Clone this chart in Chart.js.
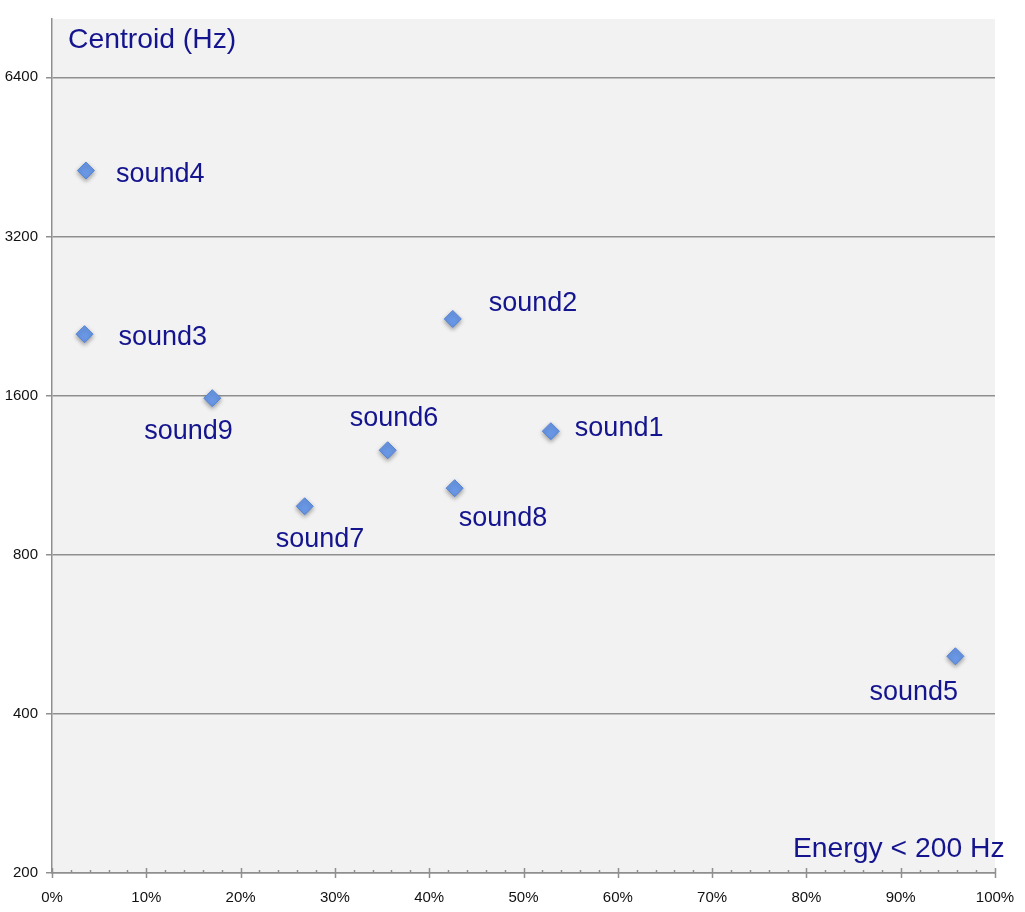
<!DOCTYPE html>
<html>
<head>
<meta charset="utf-8">
<script src="https://cdn.jsdelivr.net/npm/chart.js@4"></script>
<style>
  html, body { margin: 0; padding: 0; background: #fff; }
  #wrap { width: 1025px; height: 912px; }
</style>
</head>
<body>
<div id="wrap"><canvas id="scatterChart"></canvas></div>
<script>
// data
const soundNames = ['sound1', 'sound2', 'sound3', 'sound4', 'sound5', 'sound6', 'sound7', 'sound8', 'sound9'];
const energyLow = [52.9, 42.5, 3.45, 3.6, 95.8, 35.6, 26.8, 42.7, 17.0];   // % energy < 200 Hz
const centroidHz = [1370, 2234, 2091, 4264, 514, 1261, 988, 1069, 1582];  // Hz
const yTickValues = [200, 400, 800, 1600, 3200, 6400];

// where each label sits relative to its point (text left edge / baseline)
const labelOffsets = [[24, 5], [36, -8], [34, 11], [30, 11], [-86, 44], [-38, -24], [-29, 41], [4, 38], [-68, 41]];

const textBlue = '#14148e';
const labelFont = '27px "Liberation Sans", Arial, sans-serif';
const titleFont = '28.3px "Liberation Sans", Arial, sans-serif';
const tickFont = { family: '"Liberation Sans", Arial, sans-serif', size: 15 };

const plotBackground = {
    id: 'plotBackground',
    beforeDraw(chart) {
        const { ctx, chartArea: a } = chart;
        ctx.save();
        ctx.fillStyle = '#f2f2f2';
        ctx.fillRect(a.left, a.top, a.right - a.left, a.bottom - a.top);
        ctx.restore();
    }
};

const pointShadow = {
    id: 'pointShadow',
    beforeDatasetsDraw(chart) {
        const ctx = chart.ctx;
        ctx.save();
        ctx.shadowColor = 'rgba(0,0,0,0.35)';
        ctx.shadowBlur = 4;
        ctx.shadowOffsetY = 2;
    },
    afterDatasetsDraw(chart) {
        chart.ctx.restore();
    }
};

const labelsAndTitles = {
    id: 'labelsAndTitles',
    afterDraw(chart) {
        const { ctx } = chart;
        const xs = chart.scales.x;
        const bottom = chart.chartArea.bottom;
        ctx.save();
        // x axis tick marks: major every 10%, minor every 2%
        ctx.strokeStyle = '#8f8f8f';
        ctx.lineWidth = 1.5;
        for (let v = 0; v <= 100; v += 2) {
            const px = Math.round(xs.getPixelForValue(v)) + 0.5;
            ctx.beginPath();
            if (v % 10 === 0) {
                ctx.moveTo(px, bottom - 5);
                ctx.lineTo(px, bottom + 5);
            } else {
                ctx.moveTo(px, bottom - 3);
                ctx.lineTo(px, bottom);
            }
            ctx.stroke();
        }

        ctx.fillStyle = textBlue;
        ctx.font = labelFont;
        ctx.textAlign = 'left';
        ctx.textBaseline = 'alphabetic';
        const meta = chart.getDatasetMeta(0);
        meta.data.forEach((pt, i) => {
            const off = labelOffsets[i];
            ctx.fillText(soundNames[i], pt.x + off[0], pt.y + off[1]);
        });

        ctx.font = titleFont;
        ctx.fillText('Centroid (Hz)', 68, 48);
        ctx.fillText('Energy < 200 Hz', 793, 857);
        ctx.restore();
    }
};

const ctx = document.getElementById('scatterChart');
new Chart(ctx, {
    type: 'scatter',
    data: {
        datasets: [{
            label: 'Sounds',
            data: energyLow.map((e, i) => ({ x: e, y: centroidHz[i] })),
            pointStyle: 'rectRot',
            pointRadius: 8.5,
            pointHoverRadius: 8.5,
            backgroundColor: '#6a98e6',
            borderColor: '#5684d6',
            borderWidth: 1
        }]
    },
    options: {
        responsive: true,
        maintainAspectRatio: false,
        animation: false,
        layout: { padding: { top: 19, right: 30, left: 0, bottom: 0 } },
        plugins: {
            legend: { display: false },
            tooltip: { enabled: false }
        },
        scales: {
            x: {
                type: 'linear',
                min: 0,
                max: 100,
                afterFit(scale) {
                    scale.height = 39;
                    scale.paddingLeft = 0;
                    scale.paddingRight = 0;
                },
                ticks: {
                    stepSize: 10,
                    padding: 16,
                    color: '#111',
                    font: tickFont,
                    callback: v => v + '%'
                },
                grid: { display: true, drawOnChartArea: false, drawTicks: false },
                border: { display: true, color: '#8f8f8f', width: 1.5 }
            },
            y: {
                type: 'logarithmic',
                min: 200,
                max: 8250,
                afterFit(scale) { scale.width = 52; },
                afterBuildTicks(scale) {
                    scale.ticks = yTickValues.map(v => ({ value: v }));
                },
                ticks: {
                    padding: 8,
                    color: '#111',
                    font: tickFont,
                    callback: v => String(v)
                },
                grid: { color: '#8f8f8f', lineWidth: 1.5, tickLength: 6 },
                border: { display: true, color: '#8f8f8f', width: 1.5 }
            }
        }
    },
    plugins: [plotBackground, pointShadow, labelsAndTitles]
});
</script>
</body>
</html>
